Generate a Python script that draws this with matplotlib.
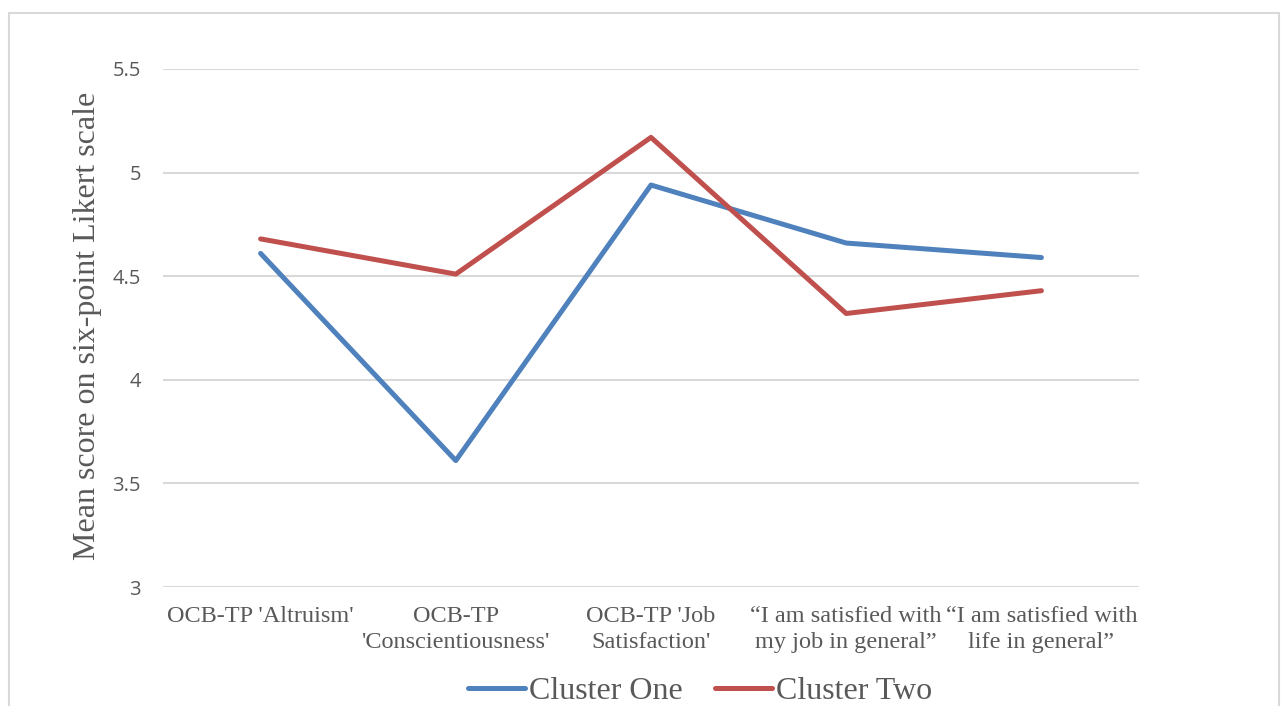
import matplotlib.pyplot as plt
from matplotlib.patches import Rectangle

# mean scores per item for the two clusters
categories = [
    "OCB-TP 'Altruism'",
    "OCB-TP\n'Conscientiousness'",
    "OCB-TP 'Job\nSatisfaction'",
    "\u201cI am satisfied with\nmy job in general\u201d",
    "\u201cI am satisfied with\nlife in general\u201d",
]
cluster_one = [4.61, 3.61, 4.94, 4.66, 4.59]
cluster_two = [4.68, 4.51, 5.17, 4.32, 4.43]
y_ticks = [3, 3.5, 4, 4.5, 5, 5.5]
y_tick_labels = ["3", "3.5", "4", "4.5", "5", "5.5"]

text_grey = "#595959"
serif = ["Liberation Serif", "DejaVu Serif"]

fig = plt.figure(figsize=(12.84, 7.06), dpi=100)

# outer chart frame
fig.patches.append(Rectangle((9 / 1284, -0.05), 1270 / 1284, 1.05 - 13 / 706,
                             transform=fig.transFigure, fill=False,
                             edgecolor="#D9D9D9", linewidth=1.5))

ax = fig.add_axes([163 / 1284, 1 - 587 / 706, 976 / 1284, 518 / 706])
x = range(len(categories))
ax.plot(x, cluster_one, color="#4F81BD", linewidth=3.6, solid_capstyle="round",
        label="Cluster One", zorder=3)
ax.plot(x, cluster_two, color="#C0504D", linewidth=3.6, solid_capstyle="round",
        label="Cluster Two", zorder=3)

ax.set_xlim(-0.5, len(categories) - 0.5)
ax.set_ylim(3, 5.5)
ax.set_yticks(y_ticks)
ax.set_yticklabels(y_tick_labels, family=["Open Sans", "DejaVu Sans"],
                   fontsize=14.5, color=text_grey)
ax.set_xticks(list(x))
ax.set_xticklabels(categories, family=serif, fontsize=17.5, color=text_grey,
                   linespacing=1.3, va="top")
ax.tick_params(axis="both", length=0)
ax.tick_params(axis="y", pad=16)
ax.tick_params(axis="x", pad=14)
ax.grid(axis="y", color="#D9D9D9", linewidth=1.5, zorder=0)
for s in ax.spines.values():
    s.set_visible(False)

fig.text(88 / 1284, 1 - 326 / 706, "Mean score on six-point Likert scale",
         rotation=90, ha="center", va="center", family=serif, fontsize=23,
         color=text_grey)

fig.legend(loc="center", bbox_to_anchor=(700 / 1284, 1 - 691 / 706), ncol=2,
           frameon=False, prop={"family": serif, "size": 23},
           labelcolor=text_grey, handlelength=1.8, handletextpad=0.12,
           columnspacing=1.0)

fig.savefig("out.png", dpi=100, facecolor="white")
